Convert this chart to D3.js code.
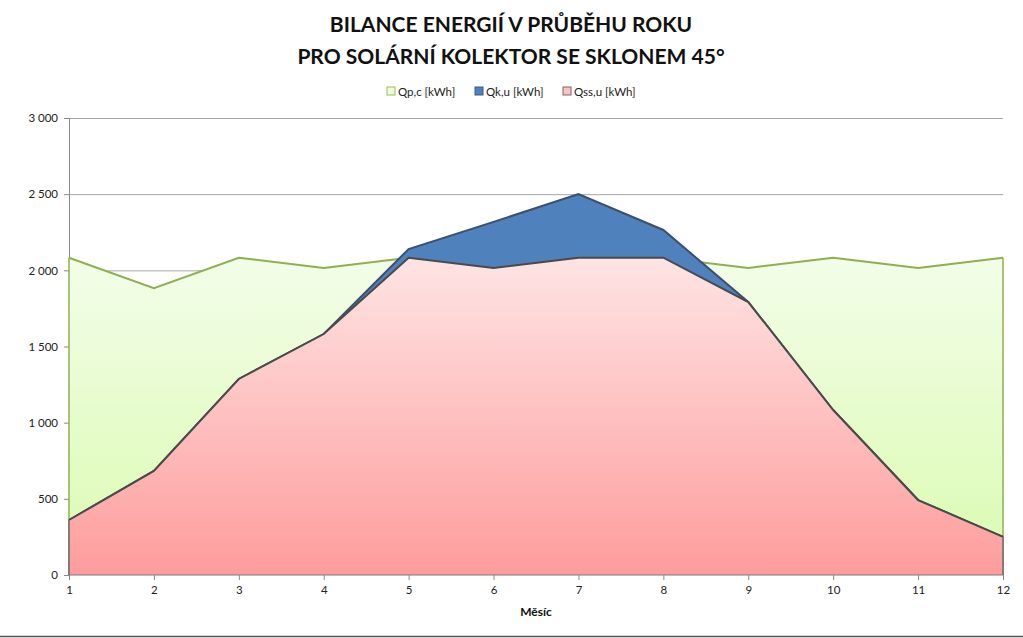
<!DOCTYPE html>
<html><head><meta charset="utf-8">
<script src="https://cdn.jsdelivr.net/npm/d3@7"></script>
<style>body{margin:0;background:#fff}svg{display:block}</style>
</head><body>
<svg id="c" width="1023" height="638"></svg>
<script>
const months = [1,2,3,4,5,6,7,8,9,10,11,12];
const qpc = [2083,1882,2083,2016,2083,2016,2083,2083,2016,2083,2016,2083];
const qku = [361,683,1287,1582,2140,2318,2500,2265,1792,1083,492,250];
const qssu = [361,683,1287,1582,2083,2016,2083,2083,1792,1083,492,250];
const yTicks = [0,500,1000,1500,2000,2500,3000];
const seriesNames = ["Qp,c [kWh]","Qk,u [kWh]","Qss,u [kWh]"];

const svg = d3.select("#c");
const font = "Lato, 'Open Sans', sans-serif";
const x = d3.scaleLinear().domain([1,12]).range([69,1003]);
const y = d3.scaleLinear().domain([0,3000]).range([575,118]);

const defs = svg.append("defs");
const gG = defs.append("linearGradient").attr("id","gg").attr("x1",0).attr("x2",0).attr("y1",0).attr("y2",1);
gG.append("stop").attr("offset","0%").attr("stop-color","#f3fde9");
gG.append("stop").attr("offset","100%").attr("stop-color","#dafbb0");
const gR = defs.append("linearGradient").attr("id","gr").attr("x1",0).attr("x2",0).attr("y1",0).attr("y2",1);
gR.append("stop").attr("offset","0%").attr("stop-color","#fee4e4");
gR.append("stop").attr("offset","100%").attr("stop-color","#fe9c9c");

// title
svg.append("text").attr("x",511).attr("y",32).attr("text-anchor","middle")
  .attr("font-family",font).attr("font-weight","bold").attr("font-size",21).attr("fill","#111")
  .text("BILANCE ENERGIÍ V PRŮBĚHU ROKU");
svg.append("text").attr("x",511).attr("y",64).attr("text-anchor","middle")
  .attr("font-family",font).attr("font-weight","bold").attr("font-size",21).attr("fill","#111")
  .text("PRO SOLÁRNÍ KOLEKTOR SE SKLONEM 45°");

// legend
const legFill = ["#eefcdd","#4f81bd","#f6c4c4"];
const legStroke = ["#9bbb59","#3b5a85","#8c6060"];
const legX = [387,475,563];
seriesNames.forEach((n,i)=>{
  svg.append("rect").attr("x",legX[i]).attr("y",87).attr("width",8).attr("height",8)
    .attr("fill",legFill[i]).attr("stroke",legStroke[i]).attr("stroke-width",1);
  svg.append("text").attr("x",legX[i]+11).attr("y",95.5).attr("font-family",font)
    .attr("font-size",11.5).attr("fill","#222").text(n);
});

// gridlines
svg.append("g").selectAll("line").data(yTicks.filter(d=>d>0)).join("line")
  .attr("x1",69).attr("x2",1003).attr("y1",d=>y(d)+0.5).attr("y2",d=>y(d)+0.5)
  .attr("stroke","#a6a6a6").attr("stroke-width",1);

const area = vals => d3.area().x((d,i)=>x(months[i])).y0(y(0)).y1(d=>y(d))(vals);
const line = vals => d3.line().x((d,i)=>x(months[i])).y(d=>y(d))(vals);

// axes (drawn before areas so the series edges sit on top)
const yAxis = d3.axisLeft(y).tickValues(yTicks).tickSize(5).tickPadding(6)
  .tickFormat(d=>d3.format(",")(d).replace(/,/g," "));
const gy = svg.append("g").attr("transform","translate(69,0)").call(yAxis);
gy.select(".domain").attr("stroke","#8a8a8a");
gy.selectAll(".tick line").attr("stroke","#8a8a8a");
gy.selectAll("text").attr("font-family",font).attr("font-size",11.5).attr("fill","#222");

svg.append("path").attr("d",area(qpc)).attr("fill","url(#gg)");
svg.append("path").attr("d",line(qpc)).attr("fill","none").attr("stroke","#8fb04c").attr("stroke-width",2);
[0,11].forEach(i=>{
  svg.append("line").attr("x1",x(months[i])).attr("x2",x(months[i])).attr("y1",y(qpc[i])).attr("y2",y(0))
    .attr("stroke","#8fb04c").attr("stroke-width",1.5);
});

svg.append("path").attr("d",area(qku)).attr("fill","#4f81bd");
svg.append("path").attr("d",line(qku)).attr("fill","none").attr("stroke","#3c4f6c").attr("stroke-width",2);

svg.append("path").attr("d",area(qssu)).attr("fill","url(#gr)");
svg.append("path").attr("d",line(qssu)).attr("fill","none").attr("stroke","#4a4a4a").attr("stroke-width",2);
[0,11].forEach(i=>{
  svg.append("line").attr("x1",x(months[i])).attr("x2",x(months[i])).attr("y1",y(qssu[i])).attr("y2",y(0))
    .attr("stroke","#6a6a6a").attr("stroke-width",1.5);
});

const xAxis = d3.axisBottom(x).tickValues(months).tickSize(5).tickPadding(6).tickFormat(d3.format("d"));
const gx = svg.append("g").attr("transform","translate(0,575)").call(xAxis);
gx.select(".domain").attr("stroke","#7a7a7a").attr("d","M69,0H1003");
gx.selectAll(".tick line").attr("stroke","#8a8a8a");
gx.selectAll("text").attr("font-family",font).attr("font-size",11.5).attr("fill","#222");

svg.append("text").attr("x",536).attr("y",616).attr("text-anchor","middle")
  .attr("font-family",font).attr("font-weight","bold").attr("font-size",12).attr("fill","#111").text("Měsíc");

svg.append("line").attr("x1",0).attr("x2",1023).attr("y1",636.5).attr("y2",636.5).attr("stroke","#555").attr("stroke-width",1.5);
</script>
</body></html>
